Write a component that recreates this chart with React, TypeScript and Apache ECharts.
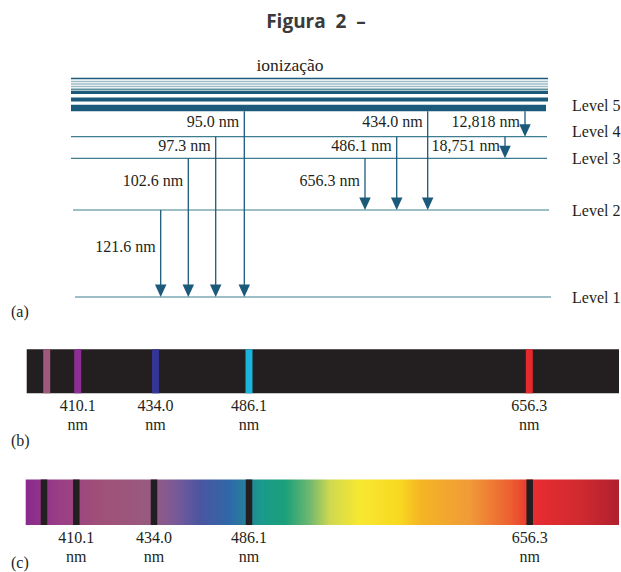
import React, { useEffect, useRef } from "react";
import * as echarts from "echarts";

// ---------- data ----------
const levelNames = ["Level 1", "Level 2", "Level 3", "Level 4", "Level 5"];
// schematic level heights (diagram units above Level 1)
const levelHeights = [0, 87, 138.7, 160.3, 189];
// closely spaced levels converging to the ionization limit
const continuumHeights = [218.5, 215.5, 213, 210.5, 207.5, 204.5, 197.5];

const transitionLabels = ["121.6 nm", "102.6 nm", "97.3 nm", "95.0 nm", "656.3 nm", "486.1 nm", "434.0 nm", "18,751 nm", "12,818 nm"];
const transitionFrom = [1, 2, 3, 4, 2, 3, 4, 3, 4];
const transitionTo = [0, 0, 0, 0, 1, 1, 1, 2, 3];
const transitionColumn = [160.7, 188.3, 215.7, 244.3, 365, 396.7, 427.7, 505, 525];

const spectrumLabels = ["", "410.1", "434.0", "486.1", "656.3"];
const emissionColumn = [46.7, 77.7, 155.5, 249, 529.3];
const absorptionColumn = [44, 76.3, 154, 249, 529.7];

// ---------- styles ----------
const DARK = "#1b5a7b";
const LIGHT = "#9dbdc6";
const MID = "#5f8e9c";
const LEVEL = "#3d7d8f";
const TEXT = "#231f20";
const SERIF = "'Liberation Serif', 'Times New Roman', serif";
const continuumColors = [DARK, LIGHT, LIGHT, LIGHT, MID, DARK, DARK];
const continuumWidths = [1.6, 1.5, 1.5, 1.5, 1.8, 2.8, 4];
const levelStart = [75, 73, 71, 71, 71];
const levelEnd = [551, 549, 547, 547, 546];
const levelLabelNudge = [0, 0, 0.5, -5, -2.5];
const emissionColors = ["#a0587e", "#8e2d96", "#353596", "#1ab4dc", "#e6292d"];
const spectrumStops = [
  [0, "#8a2a8c"], [0.058, "#9a3e86"], [0.125, "#a05078"], [0.21, "#985a80"],
  [0.252, "#7a5a98"], [0.294, "#4a55a0"], [0.344, "#2f68a8"], [0.398, "#1a9a8c"],
  [0.437, "#1aa07a"], [0.479, "#70b870"], [0.513, "#d0d850"], [0.563, "#f8e830"],
  [0.631, "#f8d820"], [0.665, "#f5b524"], [0.749, "#f09a38"], [0.816, "#ec6030"],
  [0.858, "#e82c30"], [0.934, "#d02a30"], [1, "#b0202e"],
];

function serifText(text: string, x: number, y: number, align = "center", size = 16) {
  return {
    type: "text",
    style: { text, x, y, align, textAlign: align, verticalAlign: "middle", textVerticalAlign: "middle", fontSize: size, fontFamily: SERIF, fill: TEXT },
  };
}

export default function App() {
  const ref = useRef<HTMLDivElement>(null);
  useEffect(() => {
    const chart = echarts.init(ref.current!, null, { renderer: "svg" });

    const spectrumLineSeries = (gi: number, cols: number[], colorOf: (i: number) => string, w: number) => ({
      type: "custom",
      xAxisIndex: gi,
      yAxisIndex: gi,
      clip: false,
      data: cols.map((c, i) => [c, i]),
      renderItem: (params: any, api: any) => {
        const i = params.dataIndex;
        const x = api.value(0);
        const top = api.coord([x, 1]);
        const bot = api.coord([x, 0]);
        const children: any[] = [
          { type: "rect", shape: { x: top[0] - w / 2, y: top[1], width: w, height: bot[1] - top[1] }, style: { fill: colorOf(i) } },
        ];
        if (spectrumLabels[i]) {
          children.push(serifText(spectrumLabels[i], bot[0], bot[1] + 12.5));
          children.push(serifText("nm", bot[0], bot[1] + 31.5));
        }
        return { type: "group", children };
      },
    });

    const spectrumBackground = (gi: number, x0: number, x1: number, fill: any) => ({
      type: "custom",
      xAxisIndex: gi,
      yAxisIndex: gi,
      clip: false,
      data: [[x0, x1]],
      renderItem: (params: any, api: any) => {
        const a = api.coord([api.value(0), 1]);
        const b = api.coord([api.value(1), 0]);
        return { type: "rect", shape: { x: a[0], y: a[1], width: b[0] - a[0], height: b[1] - a[1] }, style: { fill } };
      },
    });

    const option: any = {
      animation: false,
      backgroundColor: "#ffffff",
      grid: [
        { left: 0, top: 0, width: 621, height: 297 },
        { left: 0, top: 349.3, width: 621, height: 44 },
        { left: 0, top: 479.5, width: 621, height: 45.5 },
      ],
      xAxis: [0, 1, 2].map((i) => ({ type: "value", gridIndex: i, min: 0, max: 621, show: false })),
      yAxis: [
        { type: "value", gridIndex: 0, min: 0, max: 297, show: false },
        { type: "value", gridIndex: 1, min: 0, max: 1, show: false },
        { type: "value", gridIndex: 2, min: 0, max: 1, show: false },
      ],
      graphic: [
        {
          type: "text", x: 316, y: 21,
          style: { text: "Figura  2  –", align: "center", textAlign: "center", verticalAlign: "middle", textVerticalAlign: "middle", fontSize: 19, fontWeight: "bold", fontFamily: "'Open Sans', 'Noto Sans', sans-serif", fill: "#3a3a3a" },
        },
        { type: "text", x: 290, y: 65, style: { text: "ionização", align: "center", textAlign: "center", verticalAlign: "middle", textVerticalAlign: "middle", fontSize: 17.5, fontFamily: SERIF, fill: TEXT } },
        { type: "text", x: 11, y: 311, style: { text: "(a)", align: "left", textAlign: "left", verticalAlign: "middle", textVerticalAlign: "middle", fontSize: 16, fontFamily: SERIF, fill: TEXT } },
        { type: "text", x: 11, y: 440, style: { text: "(b)", align: "left", textAlign: "left", verticalAlign: "middle", textVerticalAlign: "middle", fontSize: 16, fontFamily: SERIF, fill: TEXT } },
        { type: "text", x: 11, y: 562, style: { text: "(c)", align: "left", textAlign: "left", verticalAlign: "middle", textVerticalAlign: "middle", fontSize: 16, fontFamily: SERIF, fill: TEXT } },
      ],
      series: [
        {
          type: "custom",
          name: "continuum",
          xAxisIndex: 0,
          yAxisIndex: 0,
          clip: false,
          data: continuumHeights.map((h, i) => [i, h]),
          renderItem: (params: any, api: any) => {
            const i = params.dataIndex;
            const h = api.value(1);
            const a = api.coord([71, h]);
            const b = api.coord([548, h]);
            return { type: "line", shape: { x1: a[0], y1: a[1], x2: b[0], y2: b[1] }, style: { stroke: continuumColors[i], lineWidth: continuumWidths[i] } };
          },
        },
        {
          type: "custom",
          name: "levels",
          xAxisIndex: 0,
          yAxisIndex: 0,
          clip: false,
          data: levelHeights.map((h, i) => [i, h]),
          renderItem: (params: any, api: any) => {
            const i = params.dataIndex;
            const h = api.value(1);
            const a = api.coord([levelStart[i], h]);
            const b = api.coord([levelEnd[i], h]);
            const top = i === levelHeights.length - 1;
            return {
              type: "group",
              children: [
                { type: "line", shape: { x1: a[0], y1: a[1], x2: b[0], y2: b[1] }, style: { stroke: top ? DARK : LEVEL, lineWidth: top ? 6.5 : 1.2 } },
                serifText(levelNames[i], 572, a[1] + levelLabelNudge[i], "left"),
              ],
            };
          },
        },
        {
          type: "custom",
          name: "transitions",
          xAxisIndex: 0,
          yAxisIndex: 0,
          clip: false,
          data: transitionLabels.map((_, i) => [
            transitionColumn[i],
            levelHeights[transitionFrom[i]],
            levelHeights[transitionTo[i]],
            levelHeights[transitionFrom[i] - 1],
            transitionFrom[i] === levelHeights.length - 1 ? 1 : 0,
          ]),
          renderItem: (params: any, api: any) => {
            const i = params.dataIndex;
            const x = api.value(0);
            const pFrom = api.coord([x, api.value(1)]);
            const pTo = api.coord([x, api.value(2)]);
            const pBelow = api.coord([x, api.value(3)]);
            const y0 = pFrom[1] + (api.value(4) ? 3.25 : 0);
            const tip = pTo[1];
            const hh = 12.5;
            const hw = 5.75;
            const labelY = y0 + 0.42 * (pBelow[1] - y0);
            return {
              type: "group",
              children: [
                { type: "line", shape: { x1: pFrom[0], y1: y0, x2: pFrom[0], y2: tip - hh + 1 }, style: { stroke: DARK, lineWidth: 1.3 } },
                { type: "polygon", shape: { points: [[pTo[0] - hw, tip - hh], [pTo[0] + hw, tip - hh], [pTo[0], tip]] }, style: { fill: DARK } },
                serifText(transitionLabels[i], pFrom[0] - 5, labelY, "right"),
              ],
            };
          },
        },
        spectrumBackground(1, 26.7, 619, "#231f20"),
        spectrumLineSeries(1, emissionColumn, (i) => emissionColors[i], 7),
        spectrumBackground(
          2, 25.7, 619,
          new echarts.graphic.LinearGradient(0, 0, 1, 0, spectrumStops.map(([offset, color]) => ({ offset: offset as number, color: color as string })))
        ),
        spectrumLineSeries(2, absorptionColumn, () => "#231f20", 6.5),
      ],
    };
    chart.setOption(option);
    return () => chart.dispose();
  }, []);
  return <div ref={ref} style={{ position: "absolute", left: 0, top: 0, width: 621, height: 572, background: "#fff" }} />;
}
